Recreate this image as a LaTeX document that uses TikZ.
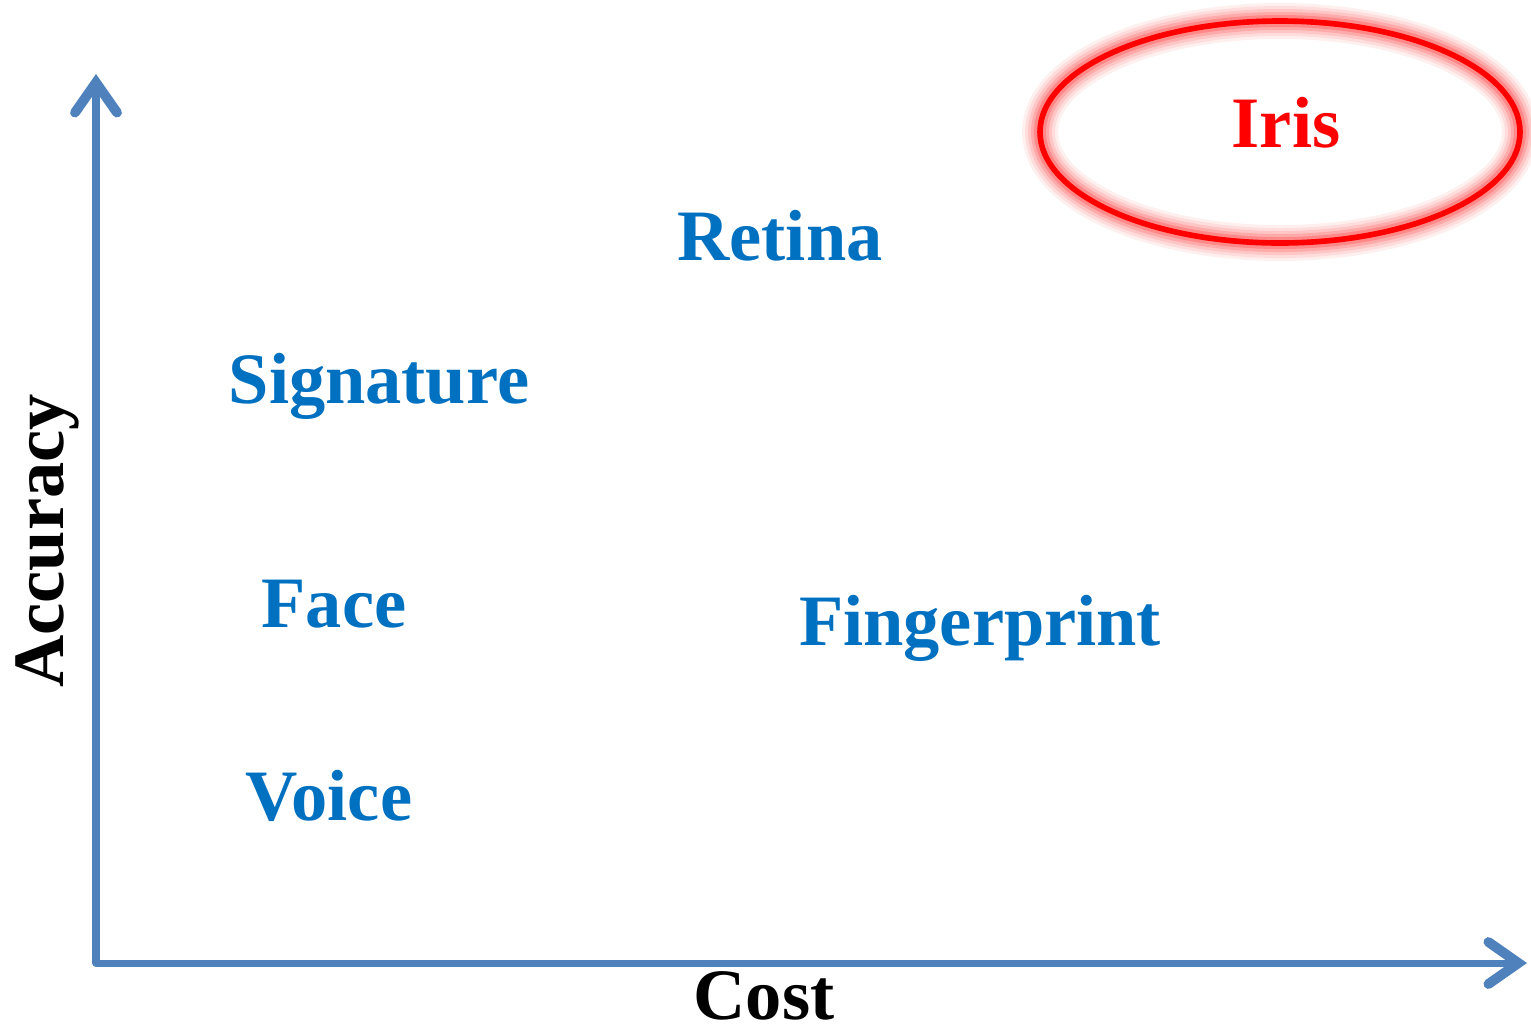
\documentclass[tikz,border=0pt]{standalone}
\usepackage{fontspec}
\setmainfont{Liberation Serif}
\usetikzlibrary{arrows.meta}

\definecolor{axisblue}{HTML}{4F81BD}
\definecolor{labelblue}{HTML}{0070C0}

\begin{document}
\begin{tikzpicture}[
    axis/.style={draw=axisblue, line width=2pt, line cap=round,
        -{Straight Barb[length=0.3cm, width=0.42cm, line width=2.8pt, line cap=round]}},
    method/.style={anchor=base, text=labelblue,
        font=\fontsize{20.6pt}{24pt}\selectfont\bfseries},
    axislabel/.style={anchor=base, text=black,
        font=\fontsize{20.6pt}{24pt}\selectfont\bfseries}
]
    \useasboundingbox (0,0) rectangle (15.31,10.32);

    % Axes
    \coordinate (origin) at (0.96,0.69);
    \coordinate (ytip) at (0.96,9.58);
    \coordinate (xtip) at (15.27,0.69);
    \draw[axis] (origin) -- (ytip);
    \draw[axis] (origin) -- (xtip);

    % Axis labels
    \node[axislabel] (cost) at (7.64,0.13) {Cost};
    \node[axislabel, rotate=90] (accuracy) at (0.64,4.91) {Accuracy};

    % Biometric methods
    \node[method] (retina) at (7.80,7.72) {Retina};
    \node[method] (signature) at (3.79,6.29) {Signature};
    \node[method] (face) at (3.34,4.05) {Face};
    \node[method] (fingerprint) at (9.80,3.87) {Fingerprint};
    \node[method] (voice) at (3.29,2.12) {Voice};

    % Iris (highlighted)
    \foreach \w/\op in {0.36/0.06, 0.30/0.08, 0.24/0.10, 0.18/0.14, 0.12/0.20} {
        \draw[red, line width=\w cm, opacity=\op] (12.80,9.00) ellipse (2.40cm and 1.11cm);
    }
    \draw[red, line width=1.6pt] (12.80,9.00) ellipse (2.40cm and 1.11cm);
    \node[method, text=red] (iris) at (12.86,8.85) {Iris};
\end{tikzpicture}
\end{document}
